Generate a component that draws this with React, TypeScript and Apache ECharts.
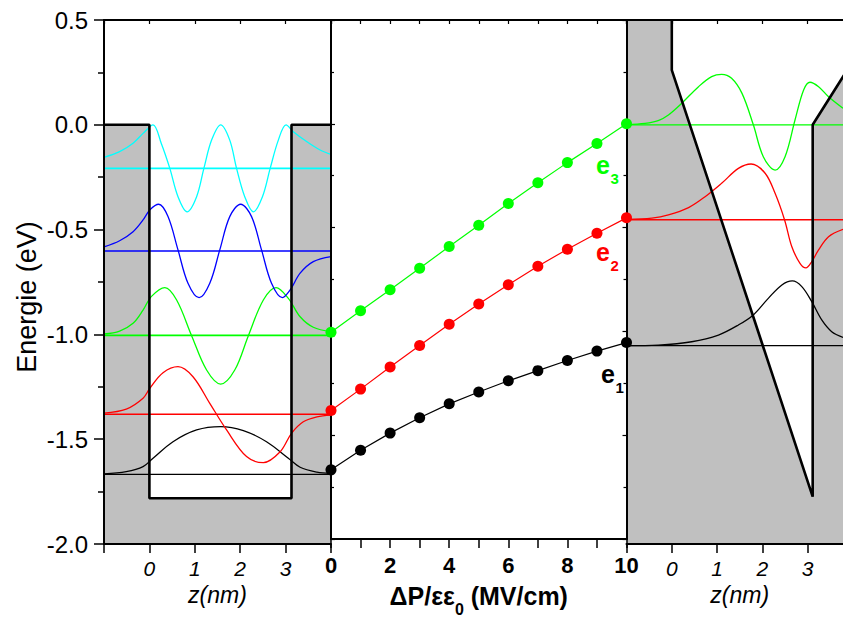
import React, { useEffect, useRef } from "react";
import * as echarts from "echarts";

// ---------- data ----------
const energyMin = -2.0;
const energyMax = 0.5;
const energyStep = 0.5;

// middle panel: subband energies vs field
const fieldValues = [0, 1, 2, 3, 4, 5, 6, 7, 8, 9, 10];
const e1Energies = [-1.667, -1.572, -1.49, -1.416, -1.349, -1.292, -1.238, -1.189, -1.14, -1.095, -1.054];
const e2Energies = [-1.381, -1.278, -1.171, -1.068, -0.966, -0.868, -0.775, -0.686, -0.604, -0.527, -0.453];
const e3Energies = [-1.004, -0.901, -0.799, -0.696, -0.591, -0.489, -0.384, -0.284, -0.187, -0.095, 0.0];

// left panel: flat-band well (z in nm, E in eV)
const flatWellProfile: number[][] = [[-1, 0], [0, 0], [0, -1.782], [3.13, -1.782], [3.13, 0], [4, 0]];
const flatLevels = [-1.668, -1.381, -1.005, -0.602, -0.208];
const flatPsi1: number[][] = [[-1, -1.666], [-0.51, -1.655], [-0.14, -1.631], [0.08, -1.591], [0.52, -1.512], [1.04, -1.456], [1.57, -1.44], [2.07, -1.459], [2.58, -1.512], [3.06, -1.591], [3.32, -1.634], [3.69, -1.657], [4, -1.663]];
const flatPsi2: number[][] = [[-1, -1.376], [-0.51, -1.357], [-0.14, -1.305], [0.01, -1.257], [0.3, -1.183], [0.63, -1.154], [0.96, -1.202], [1.33, -1.329], [1.7, -1.456], [2.14, -1.583], [2.51, -1.612], [2.88, -1.56], [3.13, -1.472], [3.39, -1.417], [3.69, -1.393], [4, -1.385]];
const flatPsi3: number[][] = [[-1, -0.998], [-0.656, -0.984], [-0.36, -0.947], [-0.14, -0.884], [0.04, -0.82], [0.34, -0.777], [0.6, -0.836], [0.93, -1.006], [1.26, -1.17], [1.57, -1.237], [1.88, -1.17], [2.18, -1.006], [2.51, -0.836], [2.79, -0.777], [3.06, -0.828], [3.32, -0.916], [3.61, -0.966], [4, -0.987]];
const flatPsi4: number[][] = [[-1, -0.582], [-0.656, -0.553], [-0.36, -0.51], [-0.14, -0.454], [0.01, -0.406], [0.205, -0.379], [0.41, -0.438], [0.63, -0.597], [0.85, -0.756], [1.095, -0.825], [1.33, -0.756], [1.55, -0.597], [1.77, -0.438], [2.01, -0.379], [2.25, -0.438], [2.47, -0.597], [2.69, -0.756], [2.93, -0.825], [3.1, -0.788], [3.32, -0.708], [3.61, -0.653], [4, -0.629]];
const flatPsi5: number[][] = [[-1, -0.155], [-0.656, -0.128], [-0.36, -0.088], [-0.14, -0.041], [0.08, 0.0], [0.26, -0.088], [0.45, -0.208], [0.63, -0.343], [0.83, -0.415], [1.04, -0.343], [1.2, -0.208], [1.37, -0.073], [1.57, 0.0], [1.77, -0.073], [1.92, -0.208], [2.1, -0.343], [2.29, -0.415], [2.49, -0.343], [2.66, -0.208], [2.84, -0.073], [3.01, 0.0], [3.17, -0.033], [3.47, -0.081], [3.76, -0.12], [4, -0.141]];

// right panel: tilted well at 10 MV/cm
const tiltedWellProfile: number[][] = [[0, 0.5], [0, 0.261], [3.11, -1.774], [3.11, 0], [4, 0.305]];
const tiltedLevels = [-1.054, -0.453, 0.0];
const tiltedPsi1: number[][] = [[-1, -1.054], [-0.3, -1.051], [0.44, -1.035], [1.03, -1.003], [1.47, -0.955], [1.8, -0.907], [2.13, -0.828], [2.43, -0.764], [2.66, -0.745], [2.87, -0.772], [3.09, -0.844], [3.31, -0.931], [3.53, -0.987], [3.78, -1.014]];
const tiltedPsi2: number[][] = [[-1, -0.451], [-0.44, -0.445], [-0.075, -0.43], [0.37, -0.395], [0.735, -0.343], [1.1, -0.279], [1.47, -0.208], [1.75, -0.187], [2.06, -0.231], [2.28, -0.327], [2.49, -0.454], [2.65, -0.582], [2.83, -0.661], [2.96, -0.683], [3.09, -0.653], [3.24, -0.597], [3.46, -0.534], [3.78, -0.499]];
const tiltedPsi3: number[][] = [[-1, 0.002], [-0.59, 0.007], [-0.3, 0.02], [-0.075, 0.047], [0.22, 0.103], [0.59, 0.182], [0.88, 0.23], [1.1, 0.241], [1.32, 0.222], [1.55, 0.15], [1.8, 0.0], [2.02, -0.152], [2.28, -0.216], [2.5, -0.152], [2.72, 0.023], [2.91, 0.166], [3.05, 0.203], [3.24, 0.182], [3.46, 0.134], [3.78, 0.079]];

const zTicksShown = [0, 1, 2, 3];

// ---------- styles ----------
const BLACK = "#000000";
const RED = "#FF0000";
const GREEN = "#00FF00";
const BLUE = "#0000FF";
const CYAN = "#00FFFF";
const GRAY = "#C0C0C0";
const FONT = "Liberation Sans";

function wave(name: string, data: number[][], color: string, xi: number, yi: number) {
  return {
    name, type: "line", xAxisIndex: xi, yAxisIndex: yi, data, smooth: 0.35,
    symbol: "none", lineStyle: { color, width: 1.3 }, z: 4, silent: true,
  };
}
function level(value: number, color: string, xi: number, yi: number, zMin: number, zMax: number, width = 1.3) {
  return {
    type: "line", xAxisIndex: xi, yAxisIndex: yi,
    data: [[zMin, value], [zMax, value]], symbol: "none",
    lineStyle: { color, width }, z: 4, silent: true,
  };
}
function dots(name: string, values: number[], color: string) {
  return {
    name, type: "line", xAxisIndex: 1, yAxisIndex: 1,
    data: fieldValues.map((x, i) => [x, values[i]]),
    symbol: "circle", symbolSize: 11, clip: false,
    itemStyle: { color }, lineStyle: { color, width: 1.2 }, z: 30,
  };
}

const axisLine = { show: true, onZero: false, lineStyle: { color: BLACK, width: 2 } };

const zLabel = (v: number) => (zTicksShown.indexOf(v) >= 0 ? String(v) : "");

function bottomZAxis(gridIndex: number) {
  return {
    type: "value", gridIndex, position: "bottom", min: -1, max: 4, interval: 1, z: 10,
    axisLine, splitLine: { show: false },
    axisTick: { show: true, length: 9, lineStyle: { color: BLACK, width: 1.5 } },
    axisLabel: { formatter: zLabel, color: BLACK, fontFamily: FONT, fontStyle: "italic", fontSize: 21, margin: 14 },
    name: "z(nm)", nameLocation: "middle", nameGap: 33,
    nameTextStyle: { color: BLACK, fontFamily: FONT, fontStyle: "italic", fontSize: 23 },
  };
}
function topAxis(gridIndex: number, min: number, max: number) {
  return {
    type: "value", gridIndex, position: "top", min, max, interval: 1, z: 10,
    axisLine, splitLine: { show: false },
    axisTick: { show: true, inside: true, length: 4, lineStyle: { color: BLACK, width: 1.2 } },
    axisLabel: { show: false },
  };
}
function plainY(gridIndex: number, position: string, ticks: boolean) {
  return {
    type: "value", gridIndex, position, min: energyMin, max: energyMax, interval: energyStep, z: 10,
    axisLine, splitLine: { show: false },
    axisTick: { show: ticks, inside: true, length: 4, lineStyle: { color: BLACK, width: 1.2 } },
    minorTick: { show: ticks, splitNumber: 2, length: 3, lineStyle: { color: BLACK, width: 1.2 } },
    axisLabel: { show: false },
  };
}

function eLabel(x: number, y: number, sub: string, color: string) {
  return [
    { type: "text", x, y, z: 50, style: { text: "e", fill: color, fontFamily: FONT, fontWeight: "bold", fontSize: 25, verticalAlign: "middle", align: "left" } },
    { type: "text", x: x + 14.5, y: y + 13.5, z: 50, style: { text: sub, fill: color, fontFamily: FONT, fontWeight: "bold", fontSize: 15, verticalAlign: "middle", align: "left" } },
  ];
}

export default function App() {
  const ref = useRef<HTMLDivElement>(null);
  useEffect(() => {
    if (!ref.current) return;
    const chart = echarts.init(ref.current, null, { renderer: "svg" });
    const gridTop = 20, gridH = 524;
    const option: any = {
      animation: false,
      backgroundColor: "#ffffff",
      grid: [
        { left: 104, top: gridTop, width: 227, height: gridH },
        { left: 331, top: gridTop, width: 295.5, height: gridH },
        { left: 626.5, top: gridTop, width: 226.5, height: gridH },
      ],
      xAxis: [
        bottomZAxis(0),
        {
          type: "value", gridIndex: 1, position: "bottom", min: 0, max: 10, interval: 1, z: 10,
          axisLine, splitLine: { show: false },
          axisTick: { show: true, length: 9, lineStyle: { color: BLACK, width: 1.5 } },
          axisLabel: {
            formatter: (v: number) => (v % 2 === 0 ? String(v) : ""),
            color: BLACK, fontFamily: FONT, fontWeight: "bold", fontSize: 22, margin: 15,
          },
          name: "{a|ΔP/εε}{s|0}{a| (MV/cm)}", nameLocation: "middle", nameGap: 44,
          nameTextStyle: {
            rich: {
              a: { color: BLACK, fontFamily: FONT, fontWeight: "bold", fontSize: 25, lineHeight: 25, verticalAlign: "top" },
              s: { color: BLACK, fontFamily: FONT, fontWeight: "bold", fontSize: 16, lineHeight: 16, padding: [18, 0, 0, 0], verticalAlign: "top" },
            },
          },
        },
        bottomZAxis(2),
        topAxis(0, -1, 4),
        topAxis(1, 0, 10),
        topAxis(2, -1, 4),
      ],
      yAxis: [
        {
          type: "value", gridIndex: 0, position: "left", min: energyMin, max: energyMax, interval: energyStep, z: 10,
          axisLine, splitLine: { show: false },
          axisTick: { show: true, length: 10, lineStyle: { color: BLACK, width: 1.5 } },
          minorTick: { show: true, splitNumber: 2, length: 6, lineStyle: { color: BLACK, width: 1.5 } },
          axisLabel: { formatter: (v: number) => v.toFixed(1), color: BLACK, fontFamily: FONT, fontSize: 24, margin: 16 },
          name: "Energie (eV)", nameLocation: "middle", nameGap: 64,
          nameTextStyle: { color: BLACK, fontFamily: FONT, fontSize: 27, padding: [0, 30, 0, 0] },
        },
        plainY(1, "left", true),
        plainY(1, "right", true),
        { ...plainY(2, "left", false), axisLine: { show: false } },
      ],
      series: [
        // gray barrier fills
        {
          type: "line", xAxisIndex: 0, yAxisIndex: 0, data: flatWellProfile, symbol: "none",
          lineStyle: { width: 0 }, areaStyle: { color: GRAY, opacity: 1, origin: "start" }, z: 1, silent: true,
        },
        {
          type: "line", xAxisIndex: 2, yAxisIndex: 3, data: [[-1, energyMax], ...tiltedWellProfile], symbol: "none",
          lineStyle: { width: 0 }, areaStyle: { color: GRAY, opacity: 1, origin: "start" }, z: 1, silent: true,
        },
        // levels, left
        level(flatLevels[0], BLACK, 0, 0, -1, 4),
        level(flatLevels[1], RED, 0, 0, -1, 4, 1.6),
        level(flatLevels[2], GREEN, 0, 0, -1, 4, 1.8),
        level(flatLevels[3], BLUE, 0, 0, -1, 4),
        level(flatLevels[4], CYAN, 0, 0, -1, 4, 1.6),
        wave("psi1", flatPsi1, BLACK, 0, 0),
        wave("psi2", flatPsi2, RED, 0, 0),
        wave("psi3", flatPsi3, GREEN, 0, 0),
        wave("psi4", flatPsi4, BLUE, 0, 0),
        wave("psi5", flatPsi5, CYAN, 0, 0),
        // levels, right
        level(tiltedLevels[0], BLACK, 2, 3, -1, 4),
        level(tiltedLevels[1], RED, 2, 3, -1, 4),
        level(tiltedLevels[2], GREEN, 2, 3, -1, 4),
        wave("tpsi1", tiltedPsi1, BLACK, 2, 3),
        wave("tpsi2", tiltedPsi2, RED, 2, 3),
        wave("tpsi3", tiltedPsi3, GREEN, 2, 3),
        // well outlines
        {
          type: "line", xAxisIndex: 0, yAxisIndex: 0, data: flatWellProfile, symbol: "none",
          lineStyle: { color: BLACK, width: 2.6 }, z: 6, silent: true,
        },
        {
          type: "line", xAxisIndex: 2, yAxisIndex: 3, data: tiltedWellProfile, symbol: "none",
          lineStyle: { color: BLACK, width: 2.6 }, z: 6, silent: true,
        },
        // subband energies vs field
        dots("e1", e1Energies, BLACK),
        dots("e2", e2Energies, RED),
        dots("e3", e3Energies, GREEN),
      ],
      graphic: [
        ...eLabel(596, 164.5, "3", GREEN),
        ...eLabel(596, 251.5, "2", RED),
        ...eLabel(601, 373.5, "1", BLACK),
      ],
    };
    chart.setOption(option);
    return () => chart.dispose();
  }, []);

  return (
    <div style={{ position: "fixed", left: 0, top: 0, width: 843, height: 622, overflow: "hidden", background: "#fff" }}>
      <div ref={ref} style={{ width: 860, height: 622 }} />
    </div>
  );
}
